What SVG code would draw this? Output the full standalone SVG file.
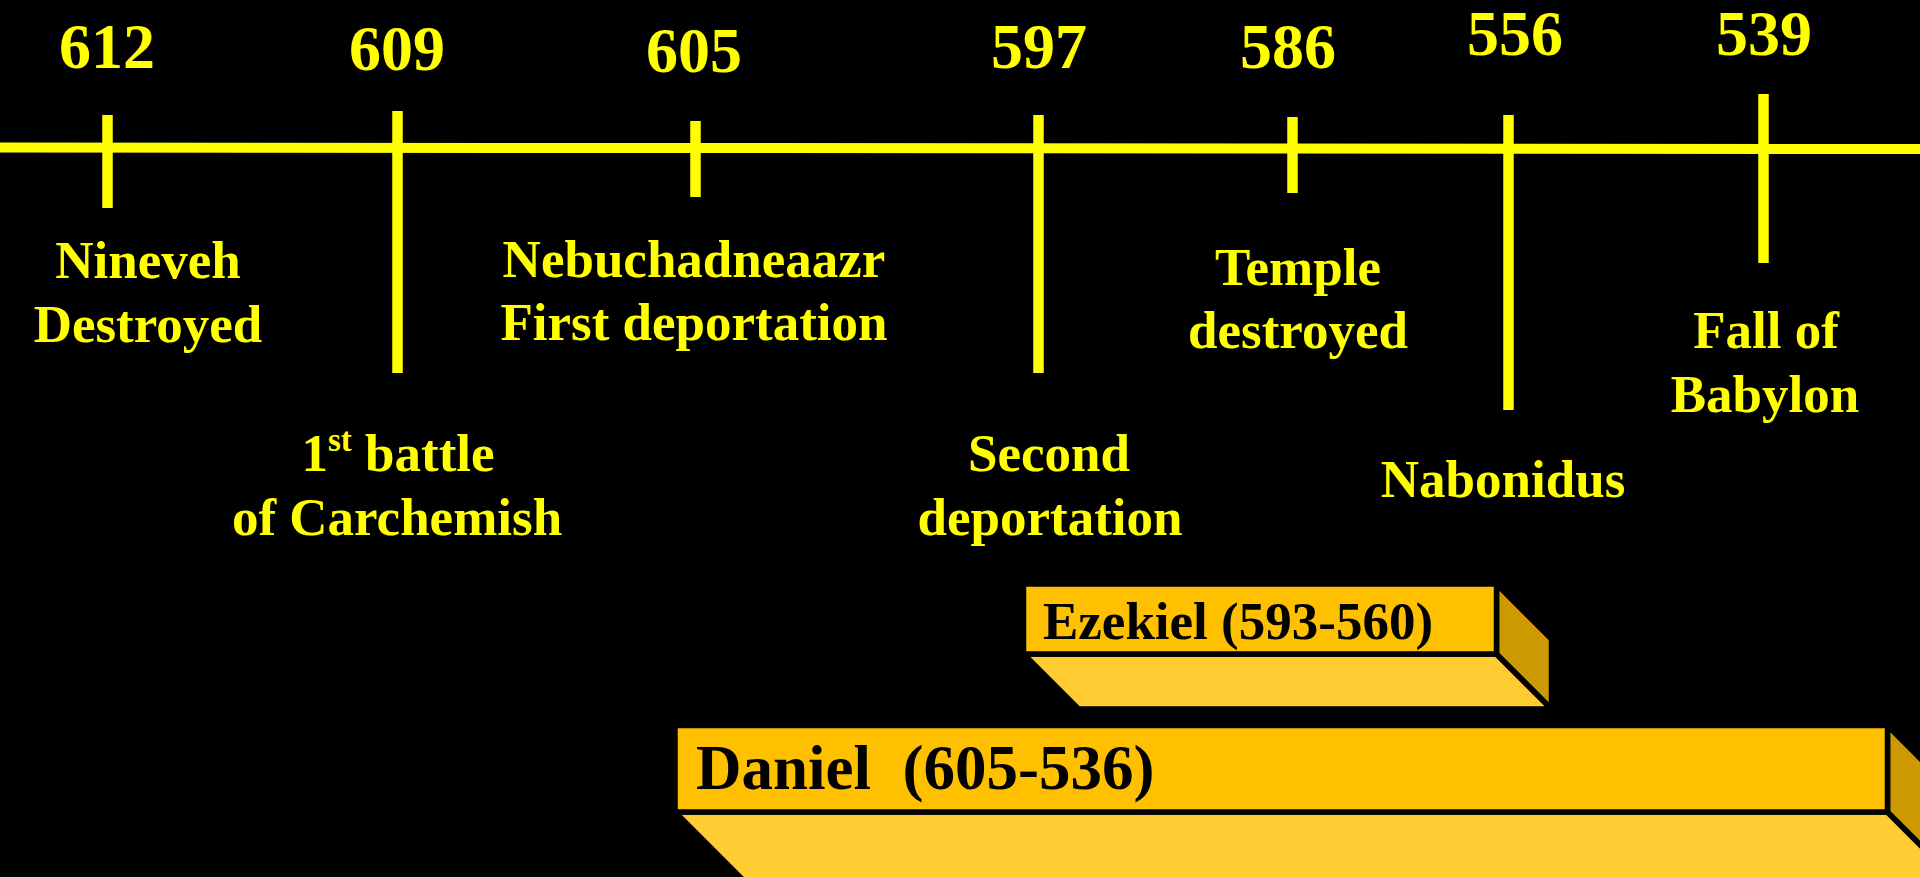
<svg xmlns="http://www.w3.org/2000/svg" width="1920" height="877" viewBox="0 0 1920 877">
  <style>
    .yr { font-family: "Liberation Serif", "Times New Roman", serif; font-weight: bold; font-size: 64px; fill: #FFFF00; text-anchor: middle; }
    .lbl { font-family: "Liberation Serif", "Times New Roman", serif; font-weight: bold; font-size: 53px; fill: #FFFF00; text-anchor: middle; }
    .tick { stroke: #FFFF00; stroke-width: 10.5; }
    .bartxt { font-family: "Liberation Serif", "Times New Roman", serif; font-weight: bold; fill: #000000; }
    .front { fill: #FFC000; stroke: #000000; stroke-width: 5.5; stroke-linejoin: miter; }
    .bottom { fill: #FFCC33; stroke: #000000; stroke-width: 5.5; stroke-linejoin: miter; }
    .side { fill: #CC9900; stroke: #000000; stroke-width: 5.5; stroke-linejoin: miter; }
  </style>
  <rect x="0" y="0" width="1920" height="877" fill="#000000"/>

  <g id="connectors">
    <line x1="0" y1="147.5" x2="1920" y2="149" stroke="#FFFF00" stroke-width="10"/>
  </g>

  <g id="event-612">
    <line class="tick" x1="107.5" y1="115" x2="107.5" y2="208"/>
    <text class="yr" x="107" y="68">612</text>
    <text class="lbl" x="148" y="278">Nineveh</text>
    <text class="lbl" x="148" y="342">Destroyed</text>
  </g>

  <g id="event-609">
    <line class="tick" x1="397.5" y1="111" x2="397.5" y2="373"/>
    <text class="yr" x="397" y="70">609</text>
    <text class="lbl" x="398" y="471">1<tspan font-size="33" dy="-20">st</tspan><tspan dy="20"> battle</tspan></text>
    <text class="lbl" x="397" y="535">of Carchemish</text>
  </g>

  <g id="event-605">
    <line class="tick" x1="695.5" y1="121" x2="695.5" y2="197"/>
    <text class="yr" x="694" y="72">605</text>
    <text class="lbl" x="694" y="277">Nebuchadneaazr</text>
    <text class="lbl" x="694" y="340">First deportation</text>
  </g>

  <g id="event-597">
    <line class="tick" x1="1038.5" y1="115" x2="1038.5" y2="373"/>
    <text class="yr" x="1039" y="68">597</text>
    <text class="lbl" x="1049" y="471">Second</text>
    <text class="lbl" x="1050" y="535">deportation</text>
  </g>

  <g id="event-586">
    <line class="tick" x1="1292.5" y1="117" x2="1292.5" y2="193"/>
    <text class="yr" x="1288" y="68">586</text>
    <text class="lbl" x="1298" y="285">Temple</text>
    <text class="lbl" x="1298" y="348">destroyed</text>
  </g>

  <g id="event-556">
    <line class="tick" x1="1508.5" y1="115" x2="1508.5" y2="410"/>
    <text class="yr" x="1515" y="55">556</text>
    <text class="lbl" x="1503" y="497">Nabonidus</text>
  </g>

  <g id="event-539">
    <line class="tick" x1="1763.5" y1="94" x2="1763.5" y2="263"/>
    <text class="yr" x="1764" y="55">539</text>
    <text class="lbl" x="1766" y="348">Fall of</text>
    <text class="lbl" x="1765" y="412">Babylon</text>
  </g>

  <g id="bar-ezekiel">
    <polygon class="bottom" points="1023.5,654 1496.5,654 1551.5,709 1078.5,709"/>
    <polygon class="side" points="1496.5,584 1551.5,639 1551.5,709 1496.5,654"/>
    <rect class="front" x="1023.5" y="584" width="473" height="70"/>
    <text class="bartxt" x="1043" y="639" font-size="53">Ezekiel (593-560)</text>
  </g>

  <g id="bar-daniel">
    <polygon class="bottom" points="675,812 1887.5,812 1967.5,892 755,892"/>
    <polygon class="side" points="1887.5,725.5 1967.5,805.5 1967.5,892 1887.5,812"/>
    <rect class="front" x="675" y="725.5" width="1212.5" height="86.5"/>
    <text class="bartxt" x="696" y="789" font-size="63" xml:space="preserve">Daniel  (605-536)</text>
  </g>
</svg>
